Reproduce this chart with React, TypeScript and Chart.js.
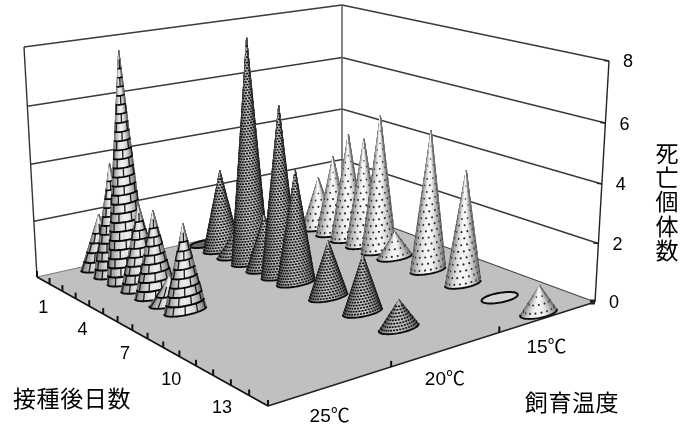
import React, { useEffect, useRef } from "react";
import { Chart, registerables } from "chart.js";

Chart.register(...registerables);

// ---- data ----
const days = [1, 2, 3, 4, 5, 6, 7, 8, 9, 10, 11, 12, 13, 14, 15];
const dayTickLabels = ["1", "4", "7", "10", "13"];
const temperatures = ["25℃", "20℃", "15℃"];
const deaths25 = [2, 4, 8, 3, 3, 1, 3, null, null, null, null, null, null, null, null];
const deaths20 = [0, 3, 1, 8, 2, 6, 4, null, 2, null, 2, null, 1, null, null];
const deaths15 = [null, 2, 3, 4, 4, 5, 1, null, 5, null, 4, null, 0, null, 1];
const valueTicks = [0, 2, 4, 6, 8];
const dayTitle = "接種後日数";
const tempTitle = "飼育温度";
const valueTitle = "死亡個体数";

// ---- 3D frame (style only) ----
type P = [number, number];
const A: P = [37, 277], B: P = [268, 406], C: P = [595, 302], D: P = [342, 209];
const vA: P = [-13, -230], vB: P = [-3, -272], vC: P = [14, -241], vD: P = [0, -204];
const CJK = '"Noto Sans CJK JP"';
const LATIN = '"Liberation Sans","Noto Sans CJK JP"';
const radiusU = 0.42 / 15;
const radiusT = 0.057;

const dx1 = B[0] - C[0], dy1 = B[1] - C[1], dx2 = D[0] - C[0], dy2 = D[1] - C[1];
const sx = A[0] - B[0] + C[0] - D[0], sy = A[1] - B[1] + C[1] - D[1];
const det = dx1 * dy2 - dx2 * dy1;
const g = (sx * dy2 - dx2 * sy) / det;
const h = (dx1 * sy - sx * dy1) / det;
function floorPt(u: number, t: number): P {
  const q = g * u + h * t + 1;
  return [
    ((B[0] - A[0] + g * B[0]) * u + (D[0] - A[0] + h * D[0]) * t + A[0]) / q,
    ((B[1] - A[1] + g * B[1]) * u + (D[1] - A[1] + h * D[1]) * t + A[1]) / q,
  ];
}
function lift(w: number) {
  return w * 0.96 + 0.04 * w * w;
}
function pt3(u: number, t: number, w: number): P {
  const f = floorPt(u, t);
  const k = lift(w);
  const vx = (1 - u) * (1 - t) * vA[0] + u * (1 - t) * vB[0] + u * t * vC[0] + (1 - u) * t * vD[0];
  const vy = (1 - u) * (1 - t) * vA[1] + u * (1 - t) * vB[1] + u * t * vC[1] + (1 - u) * t * vD[1];
  return [f[0] + vx * k, f[1] + vy * k];
}
function line(ctx: CanvasRenderingContext2D, a: P, b: P, color: string, lw: number) {
  ctx.strokeStyle = color;
  ctx.lineWidth = lw;
  ctx.beginPath();
  ctx.moveTo(a[0], a[1]);
  ctx.lineTo(b[0], b[1]);
  ctx.stroke();
}
const grey = (v: number) => {
  const c = Math.round(v);
  return `rgb(${c},${c},${c})`;
};

type Pattern = "brick" | "weave" | "dots";
const shades: Record<Pattern, [number, number]> = {
  brick: [238, 105],
  weave: [195, 70],
  dots: [250, 110],
};

function drawCone(ctx: CanvasRenderingContext2D, u: number, t: number, w: number, pattern: Pattern) {
  const c = floorPt(u, t);
  const u1 = floorPt(u + radiusU, t), u0 = floorPt(u - radiusU, t);
  const t1 = floorPt(u, t + radiusT), t0 = floorPt(u, t - radiusT);
  const a: P = [(u1[0] - u0[0]) / 2, (u1[1] - u0[1]) / 2];
  const b: P = [(t1[0] - t0[0]) / 2, (t1[1] - t0[1]) / 2];
  const T0 = pt3(u, t, w);
  const hRaw = Math.hypot(T0[0] - c[0], T0[1] - c[1]);
  const inset = hRaw > 0 ? Math.max(0, hRaw - 2) / hRaw : 0;
  const T: P = [c[0] + (T0[0] - c[0]) * inset, c[1] + (T0[1] - c[1]) * inset];
  const at = (th: number, f: number): P => [
    c[0] + (T[0] - c[0]) * f + (1 - f) * (a[0] * Math.cos(th) + b[0] * Math.sin(th)),
    c[1] + (T[1] - c[1]) * f + (1 - f) * (a[1] * Math.cos(th) + b[1] * Math.sin(th)),
  ];
  const R = Math.hypot(b[0], b[1]) * 1.07;
  const [shC, shE] = shades[pattern];

  if (w <= 0) {
    ctx.beginPath();
    for (let i = 0; i <= 60; i++) {
      const p = at((i / 60) * Math.PI * 2, 0);
      i ? ctx.lineTo(p[0], p[1]) : ctx.moveTo(p[0], p[1]);
    }
    ctx.closePath();
    ctx.fillStyle = pattern === "weave" ? "#6a6a6a" : "#d4d4d4";
    ctx.fill();
    ctx.strokeStyle = "#0c0c0c";
    ctx.lineWidth = 2;
    ctx.stroke();
    return;
  }

  // silhouette from the tip
  const axis: P = [c[0] - T[0], c[1] - T[1]];
  let th1 = 0, th2 = 0, lo = Infinity, hi = -Infinity;
  for (let i = 0; i < 720; i++) {
    const th = (i / 720) * Math.PI * 2;
    const p = at(th, 0);
    const vx = p[0] - T[0], vy = p[1] - T[1];
    const tan = (vx * axis[1] - vy * axis[0]) / (vx * axis[0] + vy * axis[1]);
    if (tan < lo) { lo = tan; th1 = th; }
    if (tan > hi) { hi = tan; th2 = th; }
  }
  let mid = (th1 + th2) / 2;
  const dist = (th: number) => {
    const p = at(th, 0);
    return Math.hypot(p[0] - T[0], p[1] - T[1]);
  };
  if (dist(mid) < dist(mid + Math.PI)) {
    if (th2 > th1) th2 -= Math.PI * 2;
    else th1 -= Math.PI * 2;
    mid = (th1 + th2) / 2;
  }
  const half = (th2 - th1) / 2;
  const N = 40;
  for (let k = 0; k < N; k++) {
    const p0 = at(th1 + (2 * half * k) / N, 0);
    const p1 = at(th1 + (2 * half * (k + 1)) / N, 0);
    const lat = Math.abs(Math.sin((((k + 0.5) / N) * 2 - 1) * (Math.PI / 2)));
    const col = grey(shC - (shC - shE) * Math.pow(lat, 2.0));
    ctx.fillStyle = col;
    ctx.strokeStyle = col;
    ctx.lineWidth = 0.5;
    ctx.beginPath();
    ctx.moveTo(T[0], T[1]);
    ctx.lineTo(p0[0], p0[1]);
    ctx.lineTo(p1[0], p1[1]);
    ctx.closePath();
    ctx.fill();
    ctx.stroke();
  }

  const hpx = Math.hypot(axis[0], axis[1]);
  const angles = (f: number, cell: number, odd: boolean) => {
    const d = cell / Math.max(R * (1 - f), 0.5);
    const list: number[] = [];
    const start = odd ? d / 2 : 0;
    for (let j = 0; start + j * d < Math.abs(half); j++) {
      const off = start + j * d;
      list.push(mid + off);
      if (off > 0) list.push(mid - off);
    }
    return list;
  };

  if (pattern === "brick") {
    const n = Math.max(2, Math.round(hpx / 8.8));
    for (let k = 0; k < n - 1; k++) {
      const f0 = k / n, f1 = (k + 1) / n;
      for (const th of angles(f0, 14, k % 2 === 1)) {
        const p0 = at(th, f0), p1 = at(th, f1);
        line(ctx, p0, p1, "#1a1a1a", 1.3);
      }
      if (k > 0) {
        ctx.strokeStyle = "#050505";
        ctx.lineWidth = 2.1 * (1 - f0 * 0.25);
        ctx.beginPath();
        for (let i = 0; i <= 24; i++) {
          const p = at(th1 + (2 * half * i) / 24, f0);
          i ? ctx.lineTo(p[0], p[1]) : ctx.moveTo(p[0], p[1]);
        }
        ctx.stroke();
      }
    }
  } else if (pattern === "weave") {
    const n = Math.max(2, Math.round(hpx / 2.7));
    ctx.fillStyle = "#0c0c0c";
    for (let k = 1; k < n - 1; k++) {
      const f = k / n;
      for (const th of angles(f, 3.2, k % 2 === 1)) {
        const p = at(th, f);
        const wid = 2.1 * Math.max(0.5, Math.cos(th - mid));
        ctx.fillRect(p[0] - wid / 2, p[1] - 0.8, wid, 1.6);
      }
    }
  } else {
    const n = Math.max(2, Math.round(hpx / 6.2));
    ctx.fillStyle = "#2a2a2a";
    for (let k = 1; k < n; k++) {
      const f = (k - 0.4) / n;
      for (const th of angles(f, 6, k % 2 === 1)) {
        const p = at(th, f);
        const fs = Math.max(0.4, Math.cos(th - mid));
        const rr = 1.1 * Math.min(1, 0.45 + (1 - f));
        ctx.beginPath();
        ctx.ellipse(p[0], p[1], rr * fs, rr, 0, 0, Math.PI * 2);
        ctx.fill();
      }
    }
  }

  // dark base rim
  ctx.strokeStyle = "#0c0c0c";
  ctx.lineWidth = 1.9;
  ctx.beginPath();
  for (let i = 0; i <= 40; i++) {
    const p = at(th1 + (2 * half * i) / 40, 0);
    i ? ctx.lineTo(p[0], p[1]) : ctx.moveTo(p[0], p[1]);
  }
  ctx.stroke();
}

const patterns: Pattern[] = ["brick", "weave", "dots"];

const conePlugin = {
  id: "cones3d",
  beforeDatasetsDraw(chart: any) {
    const ctx: CanvasRenderingContext2D = chart.ctx;
    const xs = chart.scales.x, ys = chart.scales.y;
    const du = (v: number) => xs.getDecimalForPixel(xs.getPixelForValue(v));
    const dw = (v: number) => ys.getDecimalForPixel(ys.getPixelForValue(v));
    ctx.save();
    ctx.lineCap = "butt";
    // walls
    for (const v of valueTicks) {
      if (v === 0) continue;
      const w = dw(v);
      line(ctx, pt3(0, 0, w), pt3(0, 1, w), "#3a3a3a", 1.5);
      line(ctx, pt3(0, 1, w), pt3(1, 1, w), "#3a3a3a", 1.5);
    }
    line(ctx, pt3(0, 0, 0), pt3(0, 0, 1), "#333", 1.4);
    line(ctx, pt3(0, 1, 0), pt3(0, 1, 1), "#666", 1.6);
    line(ctx, pt3(1, 1, 0), pt3(1, 1, 1), "#222", 1.4);
    // floor
    ctx.fillStyle = "#c0c0c0";
    ctx.beginPath();
    ctx.moveTo(A[0], A[1]);
    ctx.lineTo(B[0], B[1]);
    ctx.lineTo(C[0], C[1]);
    ctx.lineTo(D[0], D[1]);
    ctx.closePath();
    ctx.fill();
    line(ctx, A, D, "#777", 1);
    line(ctx, D, C, "#444", 1.1);
    line(ctx, A, B, "#111", 1.6);
    line(ctx, B, C, "#222", 1.5);
    // ticks on the floor edges
    for (let k = 0; k <= days.length; k++) {
      const p = floorPt(du(days[0] - 0.5 + k), 0);
      line(ctx, p, [p[0], p[1] - 6], "#111", 2);
    }
    for (let k = 1; k < temperatures.length; k++) {
      const p = floorPt(1, k / temperatures.length);
      line(ctx, p, [p[0], p[1] - 6], "#111", 2);
    }
    // value ticks
    for (const v of valueTicks) {
      const p = pt3(1, 1, dw(v));
      line(ctx, p, [p[0] - 5, p[1] + (v === 0 ? 0 : -0.5)], "#222", v === 0 ? 5 : 1.4);
    }
    // tick labels
    ctx.fillStyle = "#000";
    ctx.textAlign = "center";
    ctx.textBaseline = "middle";
    ctx.font = `18px ${LATIN}`;
    dayTickLabels.forEach((lab) => {
      const p = floorPt(du(Number(lab)), 0);
      ctx.fillText(lab, p[0], p[1] + 28);
    });
    valueTicks.forEach((v) => {
      const p = pt3(1, 1, dw(v));
      ctx.fillText(String(v), p[0] + 19, p[1] + 1.5);
    });
    ctx.font = `19px ${LATIN}`;
    temperatures.forEach((lab, i) => {
      const p = floorPt(1, (i + 0.5) / temperatures.length);
      ctx.fillText(lab, p[0] - 2, p[1] + 31);
    });
    // titles
    ctx.font = `23px ${CJK}`;
    ctx.letterSpacing = "0.6px";
    ctx.fillText(dayTitle, 72, 398);
    ctx.fillText(tempTitle, 572, 402);
    ctx.letterSpacing = "0px";
    [...valueTitle].forEach((ch, i) => ctx.fillText(ch, 667, 153 + i * 24.3));
    ctx.restore();
  },
  afterDatasetsDraw(chart: any) {
    const ctx: CanvasRenderingContext2D = chart.ctx;
    const xs = chart.scales.x, ys = chart.scales.y;
    ctx.save();
    for (let i = temperatures.length - 1; i >= 0; i--) {
      const meta = chart.getDatasetMeta(i);
      meta.data.forEach((el: any, j: number) => {
        const parsed = meta.controller.getParsed(j);
        if (parsed.y === null || Number.isNaN(parsed.y)) return;
        drawCone(
          ctx,
          xs.getDecimalForPixel(el.x),
          (i + 0.5) / temperatures.length,
          ys.getDecimalForPixel(el.y),
          patterns[i]
        );
      });
    }
    ctx.restore();
  },
};

export default function App() {
  const ref = useRef<HTMLCanvasElement>(null);
  useEffect(() => {
    const toPts = (vals: (number | null)[]) => days.map((d, i) => ({ x: d, y: vals[i] as any }));
    const chart = new Chart(ref.current as HTMLCanvasElement, {
      type: "scatter",
      data: {
        datasets: [
          { label: temperatures[0], data: toPts(deaths25), pointRadius: 0 },
          { label: temperatures[1], data: toPts(deaths20), pointRadius: 0 },
          { label: temperatures[2], data: toPts(deaths15), pointRadius: 0 },
        ],
      },
      options: {
        responsive: false,
        animation: false,
        devicePixelRatio: 1,
        layout: { padding: 0 },
        plugins: { legend: { display: false }, tooltip: { enabled: false } },
        scales: {
          x: { type: "linear", min: 0.5, max: 15.5, display: false },
          y: { type: "linear", min: 0, max: 8, display: false },
        },
      },
      plugins: [conePlugin as any],
    });
    return () => chart.destroy();
  }, []);
  return (
    <div style={{ position: "fixed", left: 0, top: 0, width: 695, height: 430, background: "#fff" }}>
      <canvas ref={ref} width={695} height={430} style={{ display: "block" }} />
    </div>
  );
}
